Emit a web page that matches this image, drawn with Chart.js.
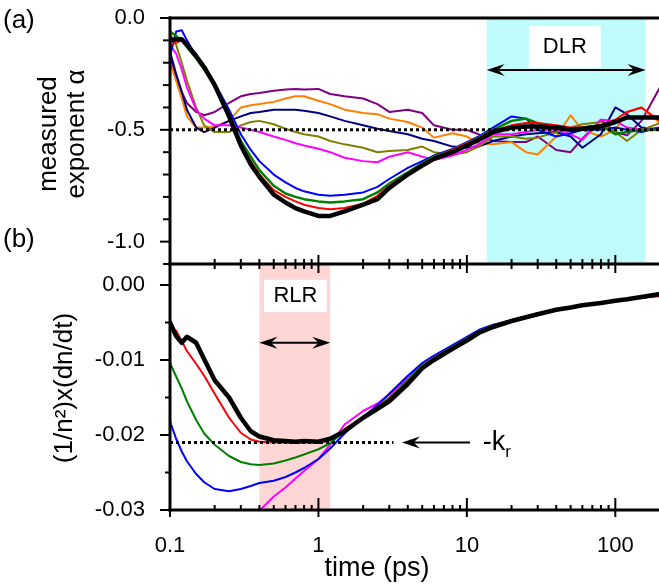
<!DOCTYPE html>
<html>
<head>
<meta charset="utf-8">
<script src="https://cdn.jsdelivr.net/npm/chart.js@4.4.1/dist/chart.umd.min.js"></script>
<style>
  html, body { margin: 0; padding: 0; background: #fff; overflow: hidden; }
  #wrap { position: relative; width: 659px; height: 584px; overflow: hidden; }
  #wrap canvas { position: absolute; left: 0; top: 0; }
</style>
</head>
<body>
<div id="wrap">
  <canvas id="chartA" width="662" height="584"></canvas>
  <canvas id="chartB" width="662" height="584"></canvas>
</div>
<script>
// shared time grid (ps)
const times = [0.1, 0.11, 0.12, 0.13, 0.15, 0.17, 0.2, 0.25, 0.3, 0.35, 0.4, 0.5, 0.6, 0.7, 0.8, 1.0, 1.2, 1.5, 2, 2.5,
               3, 4, 5, 6, 8, 10, 12, 15, 20, 25, 30, 40, 50, 60, 80, 100, 120, 150, 200];

// panel (a): measured exponent alpha
const alphaBlack  = [-0.10, -0.095, -0.095, -0.12, -0.17, -0.22, -0.30, -0.44, -0.57, -0.655, -0.71, -0.79, -0.825, -0.85, -0.865, -0.885, -0.885, -0.865, -0.835, -0.81,
                     -0.76, -0.70, -0.66, -0.63, -0.60, -0.57, -0.545, -0.51, -0.49, -0.485, -0.485, -0.49, -0.50, -0.495, -0.485, -0.465, -0.445, -0.445, -0.445];
const alphaRed    = [-0.12, -0.11, -0.10, -0.12, -0.17, -0.22, -0.30, -0.43, -0.56, -0.64, -0.70, -0.77, -0.80, -0.82, -0.835, -0.85, -0.855, -0.85, -0.83, -0.795,
                     -0.75, -0.70, -0.655, -0.625, -0.59, -0.56, -0.54, -0.505, -0.48, -0.47, -0.47, -0.48, -0.49, -0.49, -0.48, -0.455, -0.42, -0.40, -0.46];
const alphaGreen  = [-0.06, -0.08, -0.10, -0.13, -0.18, -0.23, -0.30, -0.43, -0.55, -0.62, -0.68, -0.75, -0.785, -0.80, -0.81, -0.82, -0.825, -0.82, -0.81, -0.78,
                     -0.74, -0.69, -0.65, -0.62, -0.59, -0.56, -0.535, -0.50, -0.46, -0.45, -0.47, -0.49, -0.50, -0.49, -0.48, -0.52, -0.51, -0.50, -0.50];
const alphaBlue   = [-0.17, -0.06, -0.055, -0.10, -0.17, -0.22, -0.29, -0.41, -0.52, -0.59, -0.64, -0.70, -0.735, -0.76, -0.775, -0.79, -0.795, -0.79, -0.78, -0.755,
                     -0.72, -0.67, -0.64, -0.615, -0.585, -0.555, -0.53, -0.49, -0.44, -0.45, -0.50, -0.53, -0.515, -0.50, -0.50, -0.49, -0.50, -0.51, -0.49];
const alphaPink   = [-0.12, -0.16, -0.23, -0.31, -0.41, -0.45, -0.48, -0.48, -0.49, -0.50, -0.51, -0.53, -0.545, -0.56, -0.57, -0.585, -0.60, -0.625, -0.64, -0.645,
                     -0.62, -0.60, -0.62, -0.635, -0.615, -0.59, -0.565, -0.52, -0.52, -0.51, -0.50, -0.50, -0.52, -0.545, -0.455, -0.46, -0.49, -0.50, -0.49];
const alphaOlive  = [-0.07, -0.12, -0.20, -0.28, -0.40, -0.48, -0.51, -0.51, -0.48, -0.465, -0.46, -0.475, -0.495, -0.51, -0.52, -0.53, -0.55, -0.565, -0.58, -0.60,
                     -0.595, -0.59, -0.575, -0.60, -0.61, -0.60, -0.575, -0.53, -0.53, -0.54, -0.535, -0.51, -0.49, -0.475, -0.465, -0.51, -0.55, -0.50, -0.47];
const alphaNavy   = [-0.15, -0.25, -0.33, -0.41, -0.49, -0.51, -0.49, -0.46, -0.44, -0.425, -0.42, -0.41, -0.41, -0.41, -0.415, -0.425, -0.44, -0.46, -0.48, -0.495,
                     -0.505, -0.52, -0.54, -0.55, -0.575, -0.58, -0.575, -0.55, -0.53, -0.52, -0.515, -0.51, -0.53, -0.58, -0.52, -0.40, -0.43, -0.49, -0.50];
const alphaOrange = [-0.20, -0.28, -0.36, -0.44, -0.49, -0.49, -0.485, -0.46, -0.40, -0.39, -0.385, -0.375, -0.36, -0.35, -0.35, -0.37, -0.385, -0.41, -0.425, -0.43,
                     -0.45, -0.465, -0.49, -0.535, -0.515, -0.53, -0.56, -0.565, -0.555, -0.60, -0.61, -0.53, -0.435, -0.50, -0.53, -0.50, -0.42, -0.40, -0.47];
const alphaPurple = [-0.17, -0.27, -0.33, -0.38, -0.42, -0.435, -0.42, -0.38, -0.35, -0.34, -0.335, -0.325, -0.32, -0.318, -0.32, -0.317, -0.34, -0.35, -0.36, -0.385,
                     -0.42, -0.41, -0.425, -0.48, -0.50, -0.50, -0.52, -0.55, -0.555, -0.555, -0.53, -0.59, -0.60, -0.54, -0.455, -0.51, -0.525, -0.46, -0.31];

// panel (b): (1/n^2) x (dn/dt)
const rateBlack = [-0.0050, -0.0068, -0.0077, -0.0069, -0.0077, -0.0099, -0.0127, -0.0150, -0.0177, -0.0195, -0.0202, -0.0207, -0.0208, -0.0209, -0.0208, -0.0209, -0.0205, -0.0195, -0.0177, -0.0165,
                   -0.0155, -0.0132, -0.0111, -0.0100, -0.0085, -0.0074, -0.0064, -0.0056, -0.0048, -0.0043, -0.0039, -0.0033, -0.0030, -0.0027, -0.0024, -0.0021, -0.0019, -0.0016, -0.0012];
const rateRed   = [-0.0057, -0.0061, -0.0075, -0.0088, -0.0105, -0.0121, -0.0145, -0.0177, -0.0197, -0.0206, -0.0209, -0.0210, -0.0210, -0.0210, -0.0209, -0.0209, -0.0206, -0.0192, -0.0176, -0.0163,
                   -0.0152, -0.0129, -0.0109, -0.0098, -0.0083, -0.0072, -0.0063, -0.0055, -0.0047, -0.0043, -0.0039, -0.0033, -0.0030, -0.0027, -0.0024, -0.0021, -0.0019, -0.0017, -0.0014];
const rateGreen = [-0.0104, -0.0122, -0.0138, -0.0155, -0.0180, -0.0198, -0.0213, -0.0228, -0.0236, -0.0239, -0.0240, -0.0238, -0.0234, -0.0230, -0.0226, -0.0219, -0.0211, -0.0195, -0.0177, -0.0163,
                   -0.0150, -0.0127, -0.0107, -0.0097, -0.0082, -0.0071, -0.0062, -0.0054, -0.0047, -0.0042, -0.0038, -0.0033, -0.0030, -0.0027, -0.0024, -0.0021, -0.0019, -0.0017, -0.0014];
const rateBlue  = [-0.0182, -0.0205, -0.0222, -0.0235, -0.0252, -0.0263, -0.0272, -0.0275, -0.0272, -0.0268, -0.0264, -0.0261, -0.0256, -0.0250, -0.0244, -0.0232, -0.0218, -0.0198, -0.0176, -0.0160,
                   -0.0145, -0.0121, -0.0104, -0.0094, -0.0080, -0.0069, -0.0060, -0.0053, -0.0047, -0.0042, -0.0038, -0.0033, -0.0030, -0.0027, -0.0024, -0.0021, -0.0019, -0.0017, -0.0014];
const ratePink  = [null, null, null, null, null, null, null, null, null, -0.0318, -0.0301, -0.0282, -0.0270, -0.0258, -0.0248, -0.0232, -0.0213, -0.0186, -0.0168, -0.0158,
                   -0.0146, -0.0124, -0.0106, -0.0096, -0.0081, -0.0071, -0.0062, -0.0055, -0.0047, -0.0043, -0.0039, -0.0033, -0.0030, -0.0027, -0.0024, -0.0021, -0.0019, -0.0017, -0.0015];

// axes
const timeRange = [0.1, 200];
const timeTicks = [0.1, 0.2, 0.3, 0.4, 0.5, 0.6, 0.7, 0.8, 0.9, 1, 2, 3, 4, 5, 6, 7, 8, 9,
                   10, 20, 30, 40, 50, 60, 70, 80, 90, 100, 200];
const timeLabels = [0.1, 1, 10, 100];
const alphaRange = [-1.1, 0];
const alphaTicks = [0, -0.1, -0.2, -0.3, -0.4, -0.5, -0.6, -0.7, -0.8, -0.9, -1.0, -1.1];
const alphaLabels = [0, -0.5, -1.0];
const rateRange = [-0.03, 0.0028];
const rateTicks = [0, -0.005, -0.01, -0.015, -0.02, -0.025, -0.03];
const rateLabels = [0, -0.01, -0.02, -0.03];

// guide lines and marked regions
const alphaRef = -0.5;
const krValue = -0.021;
const krLineEnd = 3.2;
const dlrRange = [13.6, 160];
const rlrRange = [0.4, 1.2];

const FONT = "'Liberation Sans', Arial, sans-serif";
const CYAN = '#c0fbfb';
const PINK = '#ffd6d6';

const pts = vals => times.map((t, i) => ({ x: t, y: vals[i] }));
const isIn = (v, list) => list.some(l => Math.abs(l - v) < 1e-9);
const noPad = s => { s.paddingTop = 0; s.paddingBottom = 0; s.paddingLeft = 0; s.paddingRight = 0; };

function line(label, vals, color, width) {
    return { label, data: pts(vals), borderColor: color, borderWidth: width || 2, pointRadius: 0, tension: 0, spanGaps: false };
}

function dotted(label, x1, x2, y) {
    return { label, data: [{ x: x1, y }, { x: x2, y }], borderColor: '#000', borderWidth: 3,
             borderDash: [3, 3], borderCapStyle: 'butt', pointRadius: 0 };
}

function arrowHead(ctx, x, y, dir, len, half) {
    ctx.beginPath();
    ctx.moveTo(x, y);
    ctx.lineTo(x + dir * len, y - half);
    ctx.lineTo(x + dir * len * 0.65, y);
    ctx.lineTo(x + dir * len, y + half);
    ctx.closePath();
    ctx.fill();
}

function arrow(ctx, x1, x2, y, both) {
    ctx.save();
    ctx.strokeStyle = '#000';
    ctx.fillStyle = '#000';
    ctx.lineWidth = 2;
    ctx.beginPath();
    ctx.moveTo(x1 + 6, y);
    ctx.lineTo(both ? x2 - 6 : x2, y);
    ctx.stroke();
    arrowHead(ctx, x1, y, 1, 18, 6);
    if (both) arrowHead(ctx, x2, y, -1, 18, 6);
    ctx.restore();
}

function text(ctx, str, x, y, size, align) {
    ctx.save();
    ctx.fillStyle = '#000';
    ctx.font = size + 'px ' + FONT;
    ctx.textAlign = align || 'left';
    ctx.textBaseline = 'middle';
    ctx.fillText(str, x, y);
    ctx.restore();
}

function labelBox(ctx, xs, ys, str, tx, ty) {
    ctx.save();
    ctx.fillStyle = '#fff';
    ctx.fillRect(xs[0], ys[0], xs[1] - xs[0], ys[1] - ys[0]);
    ctx.restore();
    text(ctx, str, tx, ty, 22, 'center');
}

function yTitle(ctx, lines, x0, yc, size) {
    ctx.save();
    ctx.fillStyle = '#000';
    ctx.font = size + 'px ' + FONT;
    ctx.textAlign = 'center';
    ctx.textBaseline = 'middle';
    lines.forEach((txt, i) => {
        ctx.save();
        ctx.translate(x0 + i * 28, yc);
        ctx.rotate(-Math.PI / 2);
        ctx.fillText(txt, 0, 0);
        ctx.restore();
    });
    ctx.restore();
}

// axis frame + tick marks for one panel
function drawFrame(chart, opts) {
    const ctx = chart.ctx;
    const { left, right, top, bottom } = chart.chartArea;
    const xs = chart.scales.x, ys = chart.scales.y;
    ctx.save();
    ctx.strokeStyle = '#000';
    ctx.lineCap = 'butt';
    ctx.lineWidth = 2;
    ys.ticks.forEach(t => {
        const y = ys.getPixelForValue(t.value);
        const len = t.label !== '' ? 10 : opts.minorY;
        ctx.beginPath();
        ctx.moveTo(left - len, y);
        ctx.lineTo(left, y);
        ctx.stroke();
    });
    if (opts.xTicks) {
        timeTicks.forEach(v => {
            const x = xs.getPixelForValue(v);
            if (x > right + 1) return;
            const major = isIn(v, timeLabels);
            // middle axis: ticks cross the line
            ctx.beginPath();
            ctx.moveTo(x, top - (major ? 9 : 5));
            ctx.lineTo(x, top + (major ? 9 : 5));
            ctx.stroke();
            // bottom axis: ticks point inward
            ctx.beginPath();
            ctx.moveTo(x, bottom - (major ? 12 : 5));
            ctx.lineTo(x, bottom + (major ? 7 : 0));
            ctx.stroke();
        });
    }
    ctx.lineWidth = 3;
    ctx.beginPath();
    ctx.moveTo(left, top - 1.5);
    ctx.lineTo(left, bottom + 1.5);
    ctx.stroke();
    opts.hLines.forEach(which => {
        const y = which === 'top' ? top : bottom;
        ctx.beginPath();
        ctx.moveTo(left - 1.5, y);
        ctx.lineTo(right, y);
        ctx.stroke();
    });
    ctx.restore();
}

const commonOpts = {
    responsive: false,
    animation: false,
    devicePixelRatio: 1,
    events: [],
    plugins: { legend: { display: false }, tooltip: { enabled: false } },
    elements: { point: { radius: 0 }, line: { borderCapStyle: 'round', borderJoinStyle: 'round' } }
};

// ---------- panel (a)
const panelA = {
    id: 'panelA',
    beforeDatasetsDraw(chart) {
        const ctx = chart.ctx, xs = chart.scales.x;
        const { top, bottom } = chart.chartArea;
        const x1 = xs.getPixelForValue(dlrRange[0]), x2 = xs.getPixelForValue(dlrRange[1]);
        ctx.save();
        ctx.fillStyle = CYAN;
        ctx.fillRect(x1, top, x2 - x1, bottom - top);
        ctx.restore();
    },
    afterDraw(chart) {
        const ctx = chart.ctx, xs = chart.scales.x, ys = chart.scales.y;
        const x1 = xs.getPixelForValue(dlrRange[0]), x2 = xs.getPixelForValue(dlrRange[1]);
        labelBox(ctx, [xs.getPixelForValue(26.2), xs.getPixelForValue(79.8)],
                 [ys.getPixelForValue(-0.036), ys.getPixelForValue(-0.223)],
                 'DLR', xs.getPixelForValue(45.7), ys.getPixelForValue(-0.13));
        arrow(ctx, x1, x2, ys.getPixelForValue(-0.232), true);
        drawFrame(chart, { minorY: 7, xTicks: false, hLines: ['top'] });
        yTitle(ctx, ['measured', 'exponent \u03b1'], 49, 134, 26);
        text(ctx, '(a)', 3, 21, 26);
    }
};

new Chart(document.getElementById('chartA'), {
    type: 'line',
    data: {
        datasets: [
            line('black', alphaBlack, '#000000', 4.5),
            dotted('ref', timeRange[0], timeRange[1], alphaRef),
            line('red', alphaRed, '#ff0000'),
            line('green', alphaGreen, '#008000', 2.5),
            line('blue', alphaBlue, '#0000ff'),
            line('magenta', alphaPink, '#ff00ff'),
            line('olive', alphaOlive, '#808000'),
            line('navy', alphaNavy, '#000080'),
            line('orange', alphaOrange, '#ff8000'),
            line('purple', alphaPurple, '#800080')
        ]
    },
    options: Object.assign({}, commonOpts, {
        layout: { padding: { top: 18, right: 2, left: 0, bottom: 0 } },
        scales: {
            x: {
                type: 'logarithmic', min: timeRange[0], max: timeRange[1],
                grid: { display: false }, border: { display: false },
                ticks: { display: false },
                afterFit: s => { s.height = 320; noPad(s); }
            },
            y: {
                min: alphaRange[0], max: alphaRange[1],
                grid: { display: false }, border: { display: false },
                afterBuildTicks: s => { s.ticks = alphaTicks.map(v => ({ value: v })); },
                ticks: {
                    padding: 17, color: '#000', autoSkip: false, font: { family: FONT, size: 22 },
                    callback: v => isIn(v, alphaLabels) ? (v < 0 ? '-' : '') + Math.abs(v).toFixed(1) : ''
                },
                afterFit: s => { s.width = 170; noPad(s); }
            }
        }
    }),
    plugins: [panelA]
});

// ---------- panel (b)
const panelB = {
    id: 'panelB',
    beforeDatasetsDraw(chart) {
        const ctx = chart.ctx, xs = chart.scales.x;
        const { top, bottom } = chart.chartArea;
        const x1 = xs.getPixelForValue(rlrRange[0]), x2 = xs.getPixelForValue(rlrRange[1]);
        ctx.save();
        ctx.fillStyle = PINK;
        ctx.fillRect(x1, top, x2 - x1, bottom - top);
        ctx.restore();
    },
    afterDraw(chart) {
        const ctx = chart.ctx, xs = chart.scales.x, ys = chart.scales.y;
        const x1 = xs.getPixelForValue(rlrRange[0]), x2 = xs.getPixelForValue(rlrRange[1]);
        labelBox(ctx, [xs.getPixelForValue(0.43), xs.getPixelForValue(1.14)],
                 [ys.getPixelForValue(0.0007), ys.getPixelForValue(-0.0036)],
                 'RLR', xs.getPixelForValue(0.70), ys.getPixelForValue(-0.0015));
        arrow(ctx, x1, x2, ys.getPixelForValue(-0.0077), true);
        // -k_r pointer
        const ky = ys.getPixelForValue(krValue);
        arrow(ctx, xs.getPixelForValue(3.65), xs.getPixelForValue(10.5), ky, false);
        const kx = xs.getPixelForValue(12.8);
        text(ctx, '-k', kx, ky, 27);
        ctx.save();
        ctx.font = '27px ' + FONT;
        const kw = ctx.measureText('-k').width;
        ctx.restore();
        text(ctx, 'r', kx + kw, ky + 10, 17);
        drawFrame(chart, { minorY: 5, xTicks: true, hLines: ['top', 'bottom'] });
        yTitle(ctx, ['(1/n\u00b2)x(dn/dt)'], 65, 388, 26);
        text(ctx, '(b)', 3, 240, 26);
        text(ctx, 'time (ps)', 377, 569, 27, 'center');
    }
};

new Chart(document.getElementById('chartB'), {
    type: 'line',
    data: {
        datasets: [
            line('black', rateBlack, '#000000', 4.5),
            dotted('kr', timeRange[0], krLineEnd, krValue),
            line('red', rateRed, '#ff0000'),
            line('green', rateGreen, '#008000'),
            line('blue', rateBlue, '#0000ff'),
            line('magenta', ratePink, '#ff00ff')
        ]
    },
    options: Object.assign({}, commonOpts, {
        layout: { padding: { top: 264, right: 2, left: 0, bottom: 0 } },
        scales: {
            x: {
                type: 'logarithmic', min: timeRange[0], max: timeRange[1],
                grid: { display: false }, border: { display: false },
                afterBuildTicks: s => { s.ticks = timeTicks.map(v => ({ value: v })); },
                ticks: {
                    padding: 15, color: '#000', maxRotation: 0, autoSkip: false,
                    font: { family: FONT, size: 22 },
                    callback: v => isIn(v, timeLabels) ? String(v) : ''
                },
                afterFit: s => { s.height = 74; noPad(s); }
            },
            y: {
                min: rateRange[0], max: rateRange[1],
                grid: { display: false }, border: { display: false },
                afterBuildTicks: s => { s.ticks = rateTicks.map(v => ({ value: v })); },
                ticks: {
                    padding: 17, color: '#000', autoSkip: false, font: { family: FONT, size: 22 },
                    callback: v => isIn(v, rateLabels) ? (v < 0 ? '-' : '') + Math.abs(v).toFixed(2) : ''
                },
                afterFit: s => { s.width = 170; noPad(s); }
            }
        }
    }),
    plugins: [panelB]
});
</script>
</body>
</html>
